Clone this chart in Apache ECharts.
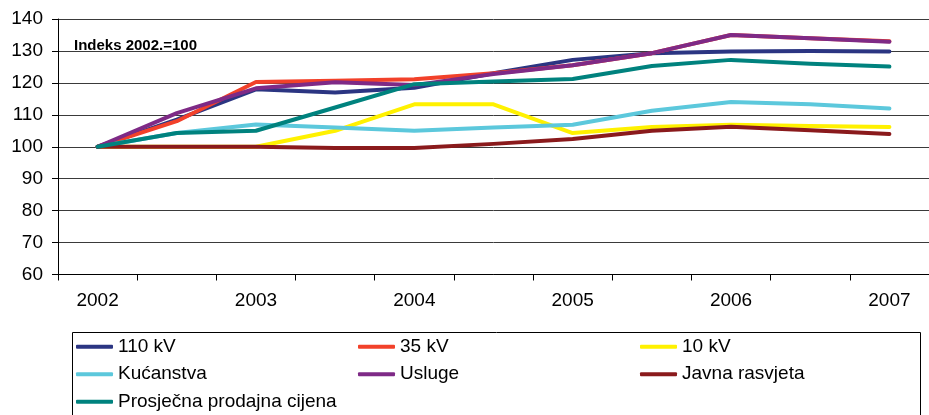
<!DOCTYPE html>
<html>
<head>
<meta charset="utf-8">
<script src="https://cdn.jsdelivr.net/npm/echarts@6/dist/echarts.min.js"></script>
<style>
  html, body { margin: 0; padding: 0; background: #fff; }
  #chartDom { width: 929px; height: 415px; }
</style>
</head>
<body>
<div id="chartDom"></div>
<script>
// polugodišnje točke, oznake samo za godine
var periods = ['2002', '2002.5', '2003', '2003.5', '2004', '2004.5', '2005', '2005.5', '2006', '2006.5', '2007']
var kv110 = [100, 108.5, 118, 117, 118.5, 123, 127.2, 129.3, 129.8, 130, 129.8]
var kv35 = [100, 108, 120.3, 120.7, 121.1, 123, 125.5, 129.3, 135, 134, 133]
var kv10 = [100, 100, 100, 105, 113.3, 113.3, 104.3, 106.2, 106.9, 106.5, 106.2]
var kucanstva = [100, 104.3, 107, 106, 105, 106, 106.9, 111.3, 114, 113.3, 112]
var usluge = [100, 110.5, 118.3, 120.2, 119.3, 122.8, 125.5, 129.3, 135, 134, 132.9]
var javnaRasvjeta = [100, 100, 100, 99.6, 99.6, 100.9, 102.4, 105, 106.3, 105.2, 104]
var prosjecnaCijena = [100, 104.3, 105, 112.3, 119.6, 120.4, 121.2, 125.3, 127.2, 126, 125.1]
var yTicks = { min: 60, max: 140, step: 10 }

var seriesNames = ['110 kV', '35 kV', '10 kV', 'Kućanstva', 'Usluge', 'Javna rasvjeta', 'Prosječna prodajna cijena']
var seriesData = [kv110, kv35, kv10, kucanstva, usluge, javnaRasvjeta, prosjecnaCijena]
var colors = ['#2B3582', '#F2412A', '#FFF100', '#5CC8DC', '#7E2A86', '#8A1A1C', '#00827E']

var chart = echarts.init(document.getElementById('chartDom'))
var font = 'Liberation Sans, Arial, sans-serif'

var series = seriesNames.map(function (name, i) {
  return {
    name: name,
    type: 'line',
    data: seriesData[i],
    symbol: 'none',
    color: colors[i],
    lineStyle: { width: 4, cap: 'round', join: 'round' }
  }
})

var option = {
  animation: false,
  backgroundColor: '#fff',
  color: colors,
  grid: { left: 58, top: 19, width: 878, height: 255.5, containLabel: false },
  xAxis: {
    type: 'category',
    data: periods,
    boundaryGap: true,
    axisLine: { lineStyle: { color: '#000', width: 1 } },
    axisTick: { show: true, interval: 0, length: 6, lineStyle: { color: '#000' } },
    axisLabel: {
      interval: 1,
      margin: 17,
      color: '#000',
      fontSize: 19,
      fontFamily: font
    },
    splitLine: { show: false }
  },
  yAxis: {
    type: 'value',
    min: yTicks.min,
    max: yTicks.max,
    interval: yTicks.step,
    axisLine: { show: true, lineStyle: { color: '#000', width: 1 } },
    axisTick: { show: true, length: 6, lineStyle: { color: '#000' } },
    axisLabel: { margin: 15, color: '#000', fontSize: 19, fontFamily: font },
    splitLine: { show: true, lineStyle: { color: '#3a3a3a', width: 1 } }
  },
  legend: {
    data: seriesNames,
    left: 76,
    top: 333,
    width: 860,
    padding: 0,
    itemGap: 0,
    itemWidth: 37,
    itemHeight: 4,
    icon: 'roundRect',
    textStyle: {
      color: '#000',
      fontSize: 19,
      fontFamily: font,
      width: 240,
      lineHeight: 27.5
    }
  },
  graphic: [
    {
      type: 'rect',
      left: 70,
      top: 330,
      shape: { width: 848, height: 100 },
      style: { fill: 'none', stroke: '#000', lineWidth: 1 },
      z: -1
    },
    {
      type: 'text',
      left: 74,
      top: 38,
      style: {
        text: 'Indeks 2002.=100',
        fill: '#000',
        font: 'bold 15px ' + font
      }
    }
  ],
  series: series
}
chart.setOption(option)
</script>
</body>
</html>
